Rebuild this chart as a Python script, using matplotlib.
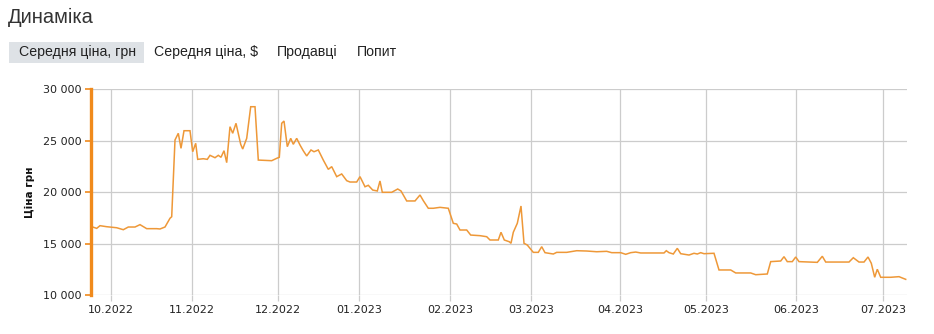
import matplotlib
matplotlib.use("Agg")
import matplotlib.pyplot as plt
from matplotlib.patches import FancyBboxPatch

# ---- data ----
x_pos = [1.7, 5.7, 9, 15.7, 25.7, 32.3, 37.3, 44, 49, 55.7,
         65.7, 69, 74, 79, 80.7, 84, 87.3, 90, 93, 99,
         101.7, 104.7, 106.7, 112.3, 116.3, 119, 124, 127.3, 130, 133,
         135.7, 139, 141.7, 145, 149.7, 151.7, 155.7, 159.7, 164, 167.3,
         180.7, 185.7, 188.3, 190.7, 193, 196.3, 199.7, 202.3, 205.7, 209,
         212.3, 215.7, 220, 223, 227.3, 232.3, 237.3, 240.7, 245.7, 250.7,
         255.7, 259, 265.7, 269, 274, 277.3, 281.7, 286.3, 289, 291.3,
         300.7, 306.7, 310, 315.7, 324, 329, 332.3, 337.3, 342.3, 349,
         357.3, 362.3, 365.7, 369, 375.7, 379.7, 389, 395.7, 399, 407.3,
         410, 413.3, 418.3, 420, 422.3, 426.3, 430, 433, 436.3, 442.3,
         447.3, 450.7, 454, 462.3, 465.7, 475.7, 485.7, 495.7, 505.7, 515.7,
         520.7, 529.7, 534.7, 539.7, 544.7, 549.7, 573, 575.3, 578, 582.3,
         586.3, 589.7, 598, 603, 606.3, 609.7, 613, 623, 628, 639.7,
         644.7, 659.7, 664.7, 676.3, 679.7, 689.7, 693, 696.3, 701.3, 704.7,
         708, 726.3, 731.3, 734.7, 758, 762.3, 768, 773, 777, 780.3,
         783.7, 786.3, 789.7, 799.7, 808, 814.7]
price = [16600, 16470, 16730, 16630, 16530, 16340, 16600, 16600, 16830, 16440,
         16440, 16410, 16600, 17450, 17600, 25050, 25700, 24240, 25950, 25950,
         23910, 24730, 23170, 23230, 23170, 23560, 23330, 23560, 23370, 24010,
         22850, 26340, 25700, 26670, 24630, 24170, 25210, 28280, 28280, 23100,
         23040, 23270, 23370, 26670, 26890, 24400, 25210, 24630, 25210, 24560,
         24000, 23500, 24080, 23910, 24080, 23100, 22200, 22460, 21490, 21750,
         21100, 20970, 20970, 21490, 20510, 20650, 20190, 20100, 21070, 19970,
         19970, 20290, 20100, 19130, 19130, 19710, 19160, 18420, 18420, 18510,
         18420, 16960, 16890, 16310, 16310, 15820, 15760, 15660, 15340, 15340,
         16090, 15340, 15170, 15020, 16090, 16960, 18640, 15020, 14850, 14140,
         14140, 14690, 14110, 13980, 14140, 14140, 14300, 14270, 14200, 14240,
         14110, 14110, 13950, 14110, 14170, 14080, 14080, 14300, 14110, 13980,
         14530, 14010, 13880, 14050, 13980, 14110, 14010, 14050, 12430, 12430,
         12140, 12140, 11970, 12040, 13240, 13300, 13720, 13240, 13240, 13690,
         13240, 13170, 13760, 13200, 13200, 13620, 13200, 13200, 13690, 13080,
         11720, 12500, 11720, 11720, 11780, 11520]

tick_pos = [20, 101, 187, 268, 359, 440, 529, 615, 705, 792]
tick_labels = ["10.2022", "11.2022", "12.2022", "01.2023", "02.2023",
               "03.2023", "04.2023", "05.2023", "06.2023", "07.2023"]
y_ticks = [10000, 15000, 20000, 25000, 30000]
y_tick_labels = ["10 000", "15 000", "20 000", "25 000", "30 000"]
x_extent = [0, 816]

title = "Динаміка"
tabs = ["Середня ціна, грн", "Середня ціна, $", "Продавці", "Попит"]
y_label = "Ціна грн"

# ---- figure ----
W, H = 934, 334
fig = plt.figure(figsize=(W / 100, H / 100), dpi=100)
fig.patch.set_facecolor("white")

ax = fig.add_axes([91 / W, (H - 295) / H, 816 / W, 206 / H])
ax.plot(x_pos, price, color="#EE9838", lw=1.1, solid_joinstyle="miter")
ax.set_xlim(*x_extent)
ax.set_ylim(10000, 30000)

ax.set_xticks(tick_pos)
ax.set_xticklabels(tick_labels, fontsize=8, color="#222222", family="DejaVu Sans")
ax.set_yticks(y_ticks)
ax.set_yticklabels(y_tick_labels, fontsize=8, color="#222222", family="DejaVu Sans")
ax.grid(True, color="#CCCCCC", lw=0.9)
ax.set_axisbelow(True)
for s in ["top", "right", "bottom"]:
    ax.spines[s].set_visible(False)
ax.spines["left"].set_color("#F08A1C")
ax.spines["left"].set_linewidth(2.4)
ax.tick_params(axis="y", length=4.5, width=1.2, color="#F08A1C", pad=2)
ax.tick_params(axis="x", length=4, width=0.9, color="#CCCCCC", pad=3)

fig.text(30 / W, 1 - 192 / H, y_label, rotation=90, ha="center", va="center",
         fontsize=7.5, fontweight="bold", color="#111111", family="DejaVu Sans")

# title and tabs
fig.text(8 / W, 1 - 17 / H, title, ha="left", va="center", fontsize=14.5,
         color="#333333", family="Liberation Sans")
tab_x = [19, 154, 277, 357]
bg = FancyBboxPatch((9 / W, 1 - 63 / H), 135 / W, 21 / H, boxstyle="square,pad=0",
                    transform=fig.transFigure, facecolor="#DEE2E6", edgecolor="none")
fig.patches.append(bg)
for tx, lab in zip(tab_x, tabs):
    fig.text(tx / W, 1 - 52 / H, lab, ha="left", va="center", fontsize=10.2,
             color="#222222", family="Liberation Sans")

fig.savefig("out.png", dpi=100, facecolor="white")
